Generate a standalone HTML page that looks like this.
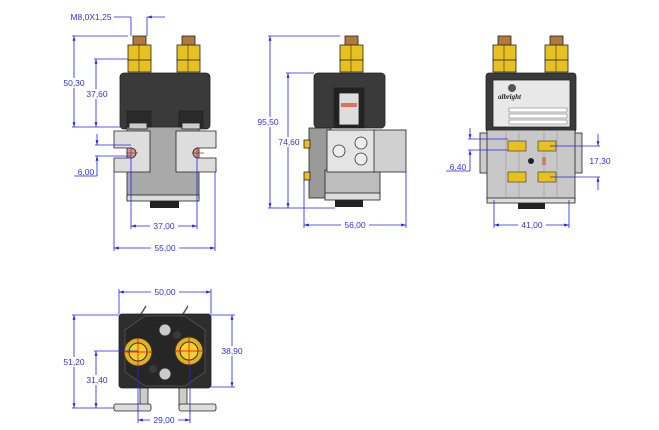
<!DOCTYPE html>
<html><head><meta charset="utf-8"><style>
html,body{margin:0;padding:0;background:#fff;}
svg{display:block;font-family:"Liberation Sans",sans-serif;}
.d{stroke:#2222ee;stroke-width:0.8;fill:none}
.t{fill:#3333dd;font-size:8.5px;text-anchor:middle}
.o{stroke:#222;stroke-width:0.8}
</style></head><body>
<svg width="659" height="430" viewBox="0 0 659 430">
<defs>
<marker id="a" viewBox="0 0 10 10" refX="10" refY="5" markerWidth="6" markerHeight="6" orient="auto-start-reverse"><path d="M0,2 L10,5 L0,8z" fill="#2222ee"/></marker>
<g id="term">
<rect x="5" y="0" width="13" height="10" fill="#b07a3a" class="o"/>
<rect x="0" y="9" width="23" height="16" fill="#e8c020" class="o"/>
<rect x="0" y="24" width="23" height="12" fill="#e8c020" class="o"/>
<line x1="11" y1="9" x2="11" y2="36" stroke="#333" stroke-width="0.6"/>
</g>
</defs>

<!-- VIEW 1 front -->
<use href="#term" x="128" y="36"/>
<use href="#term" x="177" y="36"/>
<rect x="120" y="73" width="90" height="56" rx="4" fill="#3a3a3a" class="o"/>
<rect x="127" y="127" width="72" height="72" fill="#a9a9a9" class="o"/>
<rect x="127" y="195" width="72" height="6" fill="#ddd" class="o"/>
<rect x="150" y="201" width="29" height="7" fill="#222"/>
<rect x="127" y="111" width="24" height="16" fill="#2a2a2a" class="o"/>
<rect x="179" y="111" width="24" height="16" fill="#2a2a2a" class="o"/>
<rect x="129" y="123" width="18" height="6" fill="#ccc" class="o"/>
<rect x="182" y="123" width="18" height="6" fill="#ccc" class="o"/>
<path d="M114,131 H150 V172 H114 V158 H131 A5,5 0 0 0 131,148 H114Z" fill="#ddd" class="o"/>
<path d="M216,131 H176 V172 H216 V158 H198 A5,5 0 0 1 198,148 H216Z" fill="#ddd" class="o"/>
<g stroke="red" stroke-width="0.7"><line x1="126" y1="153" x2="138" y2="153"/><line x1="131" y1="147" x2="131" y2="159"/><line x1="192" y1="153" x2="204" y2="153"/><line x1="197" y1="147" x2="197" y2="159"/></g>
<!-- dims view1 -->
<line class="d" x1="114" y1="17" x2="131" y2="17"/><line class="d" x1="131" y1="17" x2="131" y2="36"/>
<line class="d" x1="165" y1="17" x2="147" y2="17" marker-end="url(#a)"/><line class="d" x1="147" y1="17" x2="147" y2="36"/>
<text class="t" x="91" y="20">M8,0X1,25</text>
<line class="d" x1="72" y1="36" x2="128" y2="36"/><line class="d" x1="72" y1="127" x2="120" y2="127"/>
<line class="d" x1="74" y1="36" x2="74" y2="127" marker-start="url(#a)" marker-end="url(#a)"/>
<rect x="60" y="78" width="28" height="10" fill="#fff"/><text class="t" x="74" y="86">50,30</text>
<line class="d" x1="94" y1="59" x2="128" y2="59"/>
<line class="d" x1="96" y1="59" x2="96" y2="127" marker-start="url(#a)" marker-end="url(#a)"/>
<rect x="83" y="89" width="28" height="10" fill="#fff"/><text class="t" x="97" y="97">37,60</text>
<line class="d" x1="95" y1="145" x2="131" y2="145"/><line class="d" x1="95" y1="156" x2="131" y2="156"/>
<line class="d" x1="97" y1="134" x2="97" y2="145" marker-end="url(#a)"/>
<line class="d" x1="97" y1="176" x2="97" y2="156" marker-end="url(#a)"/>
<line class="d" x1="74" y1="176" x2="97" y2="176"/>
<text class="t" x="86" y="175">6,00</text>
<line class="d" x1="131" y1="158" x2="131" y2="229"/><line class="d" x1="197" y1="158" x2="197" y2="229"/>
<line class="d" x1="131" y1="226" x2="197" y2="226" marker-start="url(#a)" marker-end="url(#a)"/>
<rect x="150" y="221" width="28" height="10" fill="#fff"/><text class="t" x="164" y="229">37,00</text>
<line class="d" x1="114" y1="172" x2="114" y2="251"/><line class="d" x1="215" y1="172" x2="215" y2="251"/>
<line class="d" x1="114" y1="248" x2="215" y2="248" marker-start="url(#a)" marker-end="url(#a)"/>
<rect x="151" y="243" width="28" height="10" fill="#fff"/><text class="t" x="165" y="251">55,00</text>

<!-- VIEW 2 side -->
<use href="#term" x="340" y="36"/>
<rect x="314" y="73" width="71" height="55" rx="4" fill="#3a3a3a" class="o"/>
<rect x="334" y="88" width="30" height="40" fill="#222" class="o"/>
<rect x="339" y="93" width="20" height="32" fill="#ddd" class="o"/>
<rect x="341" y="103" width="16" height="4" fill="#e07060"/>
<rect x="309" y="128" width="22" height="70" fill="#9a9a9a" class="o"/>
<rect x="325" y="170" width="55" height="26" fill="#bdbdbd" class="o"/>
<rect x="327" y="130" width="48" height="42" fill="#e4e4e4" class="o"/>
<rect x="374" y="130" width="32" height="42" fill="#d0d0d0" class="o"/>
<rect x="325" y="193" width="55" height="7" fill="#ddd" class="o"/>
<rect x="335" y="200" width="28" height="7" fill="#222"/>
<rect x="304" y="140" width="6" height="8" fill="#e8c020" class="o"/>
<rect x="304" y="172" width="6" height="8" fill="#e8c020" class="o"/>
<g fill="#eee" stroke="#333" stroke-width="0.8"><circle cx="339" cy="151" r="6"/><circle cx="361" cy="143" r="6"/><circle cx="361" cy="159" r="6"/></g>
<line class="d" x1="268" y1="36" x2="340" y2="36"/><line class="d" x1="268" y1="208" x2="335" y2="208"/>
<line class="d" x1="270" y1="36" x2="270" y2="208" marker-start="url(#a)" marker-end="url(#a)"/>
<rect x="257" y="117" width="27" height="10" fill="#fff"/><text class="t" x="268" y="125">95,50</text>
<line class="d" x1="286" y1="73" x2="314" y2="73"/>
<line class="d" x1="288" y1="73" x2="288" y2="208" marker-start="url(#a)" marker-end="url(#a)"/>
<rect x="276" y="137" width="27" height="10" fill="#fff"/><text class="t" x="289" y="145">74,60</text>
<line class="d" x1="304" y1="180" x2="304" y2="228"/><line class="d" x1="406" y1="170" x2="406" y2="228"/>
<line class="d" x1="304" y1="225" x2="406" y2="225" marker-start="url(#a)" marker-end="url(#a)"/>
<rect x="341" y="220" width="28" height="10" fill="#fff"/><text class="t" x="355" y="228">56,00</text>

<!-- VIEW 3 back -->
<use href="#term" x="493" y="36"/>
<use href="#term" x="545" y="36"/>
<rect x="486" y="73" width="90" height="59" rx="3" fill="#3a3a3a" class="o"/>
<rect x="493" y="80" width="77" height="47" fill="#e8e8e8" class="o"/>
<text x="498" y="99" font-size="7" font-style="italic" font-weight="bold" fill="#222" font-family="Liberation Serif,serif">albright</text>
<circle cx="512" cy="88" r="4" fill="#555"/>
<g stroke="#666" stroke-width="0.5" fill="#fff"><rect x="509" y="108" width="58" height="4"/><rect x="509" y="114" width="58" height="4"/><rect x="509" y="120" width="58" height="4"/></g>
<rect x="480" y="133" width="10" height="40" fill="#ccc" class="o"/>
<rect x="572" y="133" width="10" height="40" fill="#ccc" class="o"/>
<rect x="487" y="130" width="88" height="70" fill="#c8c8c8" class="o"/>
<g stroke="#999" stroke-width="0.6"><line x1="506" y1="130" x2="506" y2="200"/><line x1="519" y1="130" x2="519" y2="200"/><line x1="544" y1="130" x2="544" y2="200"/><line x1="557" y1="130" x2="557" y2="200"/></g>
<rect x="487" y="198" width="88" height="5" fill="#ddd" class="o"/>
<rect x="518" y="203" width="27" height="6" fill="#222"/>
<g fill="#e8c020" stroke="#333" stroke-width="0.6"><rect x="508" y="141" width="18" height="10"/><rect x="538" y="141" width="18" height="10"/><rect x="508" y="172" width="18" height="10"/><rect x="538" y="172" width="18" height="10"/></g>
<circle cx="531" cy="161" r="3" fill="#222"/><rect x="542" y="157" width="4" height="8" fill="#d08070"/>
<line class="d" x1="468" y1="139" x2="508" y2="139"/><line class="d" x1="468" y1="150" x2="508" y2="150"/>
<line class="d" x1="470" y1="128" x2="470" y2="139" marker-end="url(#a)"/>
<line class="d" x1="470" y1="171" x2="470" y2="150" marker-end="url(#a)"/>
<line class="d" x1="446" y1="171" x2="470" y2="171"/>
<text class="t" x="458" y="170">6,40</text>
<line class="d" x1="550" y1="146" x2="600" y2="146"/><line class="d" x1="550" y1="177" x2="600" y2="177"/>
<line class="d" x1="598" y1="134" x2="598" y2="146" marker-end="url(#a)"/>
<line class="d" x1="598" y1="190" x2="598" y2="177" marker-end="url(#a)"/>
<rect x="586" y="156" width="28" height="10" fill="#fff"/><text class="t" x="600" y="164">17,30</text>
<line class="d" x1="494" y1="200" x2="494" y2="228"/><line class="d" x1="569" y1="200" x2="569" y2="228"/>
<line class="d" x1="494" y1="225" x2="569" y2="225" marker-start="url(#a)" marker-end="url(#a)"/>
<rect x="518" y="220" width="28" height="10" fill="#fff"/><text class="t" x="532" y="228">41,00</text>

<!-- VIEW 4 bottom -->
<path d="M141,314 L146,306 M183,314 L188,306" stroke="#555" stroke-width="1.5"/>
<rect x="119" y="314" width="92" height="74" rx="3" fill="#2e2e2e" class="o"/>
<path d="M125,330 L145,316 H185 L205,330 V372 L185,386 H145 L125,372Z" fill="#262626" stroke="#555" stroke-width="0.8"/>
<circle cx="165" cy="330" r="6" fill="#ccc" stroke="#333"/><circle cx="165" cy="374" r="6" fill="#ccc" stroke="#333"/>
<circle cx="177" cy="335" r="4" fill="#3a3a3a"/><circle cx="153" cy="369" r="4" fill="#3a3a3a"/>
<g stroke="#333" stroke-width="1"><circle cx="138" cy="352" r="14" fill="#e0b020"/><circle cx="138" cy="352" r="9" fill="#f0d030"/><circle cx="189" cy="351" r="14" fill="#e0b020"/><circle cx="189" cy="351" r="9" fill="#f0d030"/></g>
<g stroke="red" stroke-width="0.7"><line x1="124" y1="352" x2="152" y2="352"/><line x1="138" y1="338" x2="138" y2="366"/><line x1="175" y1="351" x2="203" y2="351"/><line x1="189" y1="337" x2="189" y2="365"/></g>
<rect x="140" y="388" width="8" height="18" fill="#ccc" class="o"/><rect x="179" y="388" width="8" height="18" fill="#ccc" class="o"/>
<rect x="114" y="404" width="37" height="7" rx="2" fill="#ddd" class="o"/><rect x="179" y="404" width="37" height="7" rx="2" fill="#ddd" class="o"/>
<line class="d" x1="119" y1="314" x2="119" y2="289"/><line class="d" x1="211" y1="314" x2="211" y2="289"/>
<line class="d" x1="119" y1="292" x2="211" y2="292" marker-start="url(#a)" marker-end="url(#a)"/>
<rect x="151" y="287" width="28" height="10" fill="#fff"/><text class="t" x="165" y="295">50,00</text>
<line class="d" x1="72" y1="315" x2="119" y2="315"/><line class="d" x1="72" y1="408" x2="114" y2="408"/>
<line class="d" x1="74" y1="315" x2="74" y2="408" marker-start="url(#a)" marker-end="url(#a)"/>
<rect x="61" y="357" width="27" height="10" fill="#fff"/><text class="t" x="74" y="365">51,20</text>
<line class="d" x1="94" y1="351" x2="138" y2="351"/>
<line class="d" x1="96" y1="351" x2="96" y2="408" marker-start="url(#a)" marker-end="url(#a)"/>
<rect x="84" y="375" width="27" height="10" fill="#fff"/><text class="t" x="97" y="383">31,40</text>
<line class="d" x1="211" y1="315" x2="235" y2="315"/><line class="d" x1="211" y1="387" x2="235" y2="387"/>
<line class="d" x1="232" y1="315" x2="232" y2="387" marker-start="url(#a)" marker-end="url(#a)"/>
<rect x="218" y="346" width="28" height="10" fill="#fff"/><text class="t" x="232" y="354">38,90</text>
<line class="d" x1="138" y1="366" x2="138" y2="423"/><line class="d" x1="190" y1="365" x2="190" y2="423"/>
<line class="d" x1="138" y1="420" x2="190" y2="420" marker-start="url(#a)" marker-end="url(#a)"/>
<rect x="150" y="415" width="28" height="10" fill="#fff"/><text class="t" x="164" y="423">29,00</text>
</svg>
</body></html>
